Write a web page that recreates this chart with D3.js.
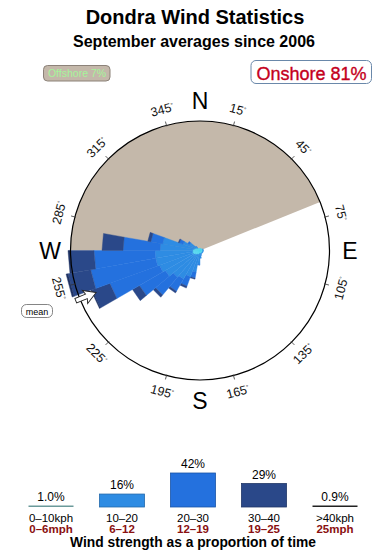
<!DOCTYPE html>
<html>
<head>
<meta charset="utf-8">
<script src="https://cdn.jsdelivr.net/npm/d3@7"></script>
<style>
body { margin: 0; background: #fff; }
svg { display: block; font-family: "Liberation Sans", Arial, sans-serif; }
</style>
</head>
<body>
<svg id="chart" width="390" height="560"></svg>
<script>
// direction bins (centre bearing, 10 degrees wide)
var dirs = [5,15,25,35,45,55,65,75,85,95,105,115,125,135,145,155,165,175,
	185,195,205,215,225,235,245,255,265,275,285,295,305,315,325,335,345,355];

// percent of time, per direction, per speed class
var s0to10 = [.005,.005,.005,.005,.005,.005,.008,.008,.008,.008,.008,.008,.008,.008,.008,.008,.01,.01,
	.01,.01,.02,.02,.03,.04,.06,.07,.06,.06,.04,.03,.02,.01,.005,.005,.005,.005];
var s10to20 = [0,0,0,0,0,0,.005,.005,.005,.005,.005,.005,.005,.005,.005,.005,.02,.06,
	.22,.55,.89,1.24,1.39,1.81,2.08,2.27,2.28,1.79,1.63,.35,.15,.03,0,0,0,0];
var s20to30 = [0,0,0,0,0,0,0,0,0,0,0,0,0,0,0,0,0,0,
	.02,.35,.76,1.30,2.48,3.82,8.52,11.91,10.66,5.01,1.22,.19,.06,0,0,0,0,0];
var s30to40 = [0,0,0,0,0,0,0,0,0,0,0,0,0,0,0,0,0,0,
	0,.07,.18,.22,.41,1.37,4.64,6.52,6.55,4.25,.36,.05,0,0,0,0,0,0];
var sOver40 = [0,0,0,0,0,0,0,0,0,0,0,0,0,0,0,0,0,0,
	0,0,0,0,0,0,.27,.63,.61,0,0,0,0,0,0,0,0,0];

var kphLabels = ["0\u201310kph","10\u201320","20\u201330","30\u201340",">40kph"];
var mphLabels = ["0\u20136mph","6\u201312","12\u201319","19\u201325","25mph"];
var legendPct = [1.0, 16, 42, 29, 0.9];
var legendPctText = ["1.0%","16%","42%","29%","0.9%"];
var colors = ["#52d6ee","#2e8ce3","#2471de","#2a4889","#1e3264"];

var tickDegs = [15,45,75,105,135,165,195,225,255,285,315,345];
var compass = [["N",0],["E",90],["S",180],["W",270]];
var offshoreFrom = -90, offshoreTo = 68;
var meanDir = 248;

var svg = d3.select("#chart");
var cx = 200, cy = 250.5, R = 129.5;
var rad = Math.PI / 180;

function pt(r, deg) {
	return [cx + r * Math.sin(deg * rad), cy - r * Math.cos(deg * rad)];
}

// title
svg.append("text").attr("x", 195).attr("y", 24).attr("text-anchor", "middle")
	.attr("font-size", "20px").attr("font-weight", 700).text("Dondra Wind Statistics");
svg.append("text").attr("x", 194).attr("y", 47).attr("text-anchor", "middle")
	.attr("font-size", "16px").attr("font-weight", 700).text("September averages since 2006");

// offshore / onshore boxes
svg.append("rect").attr("x", 43.5).attr("y", 65.5).attr("width", 66.5).attr("height", 15.5)
	.attr("rx", 4).attr("fill", "#c4b8aa").attr("stroke", "#8c8279");
svg.append("text").attr("x", 77).attr("y", 77).attr("text-anchor", "middle")
	.attr("font-size", "10.5px").attr("fill", "#a6f59a").text("Offshore 7%");
svg.append("rect").attr("x", 251).attr("y", 60.5).attr("width", 120.5).attr("height", 23)
	.attr("rx", 5).attr("fill", "#fff").attr("stroke", "#6a88aa");
svg.append("text").attr("x", 311.5).attr("y", 80).attr("text-anchor", "middle")
	.attr("font-size", "18px").attr("fill", "#c4001c")
	.attr("stroke", "#c4001c").attr("stroke-width", 0.35).text("Onshore 81%");

// offshore sector
svg.append("path")
	.attr("transform", "translate(" + cx + "," + cy + ")")
	.attr("d", d3.arc().innerRadius(0).outerRadius(R)
		.startAngle(offshoreFrom * rad).endAngle(offshoreTo * rad)())
	.attr("fill", "#c4b8aa");

// petals
var rScale = d3.scaleSqrt().domain([0, 20]).range([0, 131.5]);
var series = [s0to10, s10to20, s20to30, s30to40, sOver40];
var petals = [];
dirs.forEach(function(d, i) {
	var cum = 0;
	series.forEach(function(s, k) {
		if (s[i] <= 0) return;
		petals.push({ dir: d, k: k, r0: rScale(cum), r1: rScale(cum + s[i]) });
		cum += s[i];
	});
});

svg.append("g").selectAll("path")
	.data(petals)
	.enter()
	.append("path")
		.attr("d", function(p) {
			var a0 = p.dir - 5, a1 = p.dir + 5;
			var pts = [pt(p.r0, a0), pt(p.r1, a0), pt(p.r1, a1), pt(p.r0, a1)];
			return "M" + pts.join("L") + "Z";
		})
		.attr("fill", function(p) { return colors[p.k]; })
		.attr("stroke", function(p) { return colors[p.k]; })
		.attr("stroke-width", 0.4);

// circle and ticks
svg.append("circle").attr("cx", cx).attr("cy", cy).attr("r", R)
	.attr("fill", "none").attr("stroke", "#000").attr("stroke-width", 1.2);

svg.append("g").selectAll("line")
	.data(tickDegs)
	.enter()
	.append("line")
		.attr("x1", function(d) { return pt(R - 1, d)[0]; })
		.attr("y1", function(d) { return pt(R - 1, d)[1]; })
		.attr("x2", function(d) { return pt(R + 4, d)[0]; })
		.attr("y2", function(d) { return pt(R + 4, d)[1]; })
		.attr("stroke", "#333").attr("stroke-width", 0.8);

var degLab = svg.append("g").selectAll("text")
	.data(tickDegs)
	.enter()
	.append("text")
		.attr("transform", function(d) {
			var p = pt(R + 16.5, d);
			var rot = (d > 90 && d < 270) ? d - 180 : (d >= 270 ? d - 360 : d);
			return "translate(" + p[0] + "," + p[1] + ") rotate(" + rot + ")";
		})
		.attr("text-anchor", "middle")
		.attr("dy", "0.35em")
		.attr("font-size", "12.5px")
		.attr("fill", "#111");
degLab.append("tspan").text(function(d) { return d; });
degLab.append("tspan").attr("font-size", "6px").attr("dy", "-0.7em").text("\u00b0");

svg.append("g").selectAll("text")
	.data(compass)
	.enter()
	.append("text")
		.attr("x", function(c) { return pt(150, c[1])[0]; })
		.attr("y", function(c) { return pt(150, c[1])[1]; })
		.attr("dy", "0.36em")
		.attr("text-anchor", "middle")
		.attr("font-size", "23px")
		.text(function(c) { return c[0]; });

// mean arrow
var arrowPts = [[0, 112], [-7, 124], [-2.4, 122.5], [-2.4, 134], [2.4, 134], [2.4, 122.5], [7, 124]];
svg.append("path")
	.attr("transform", "translate(" + cx + "," + cy + ") rotate(" + (meanDir - 180) + ")")
	.attr("d", "M" + arrowPts.join("L") + "Z")
	.attr("fill", "#fff").attr("stroke", "#222").attr("stroke-width", 0.9);
svg.append("rect").attr("x", 21.5).attr("y", 304.5).attr("width", 31).attr("height", 13)
	.attr("rx", 5).attr("fill", "#fff").attr("stroke", "#666").attr("stroke-width", 0.8);
svg.append("text").attr("x", 37).attr("y", 314.5).attr("text-anchor", "middle")
	.attr("font-size", "9px").text("mean");

// legend
var baseY = 507;
var lx = d3.scalePoint().domain(kphLabels).range([51, 335]);
var lh = d3.scaleLinear().domain([0, 42]).range([0, 34]);
var bw = 45;
var lg = svg.append("g");
lg.selectAll("rect")
	.data(legendPct)
	.enter()
	.append("rect")
		.attr("x", function(d, i) { return lx(kphLabels[i]) - bw / 2; })
		.attr("y", function(d) { return baseY - Math.max(lh(d), 1.5); })
		.attr("width", bw)
		.attr("height", function(d) { return Math.max(lh(d), 1.5); })
		.attr("fill", function(d, i) { return i == 0 ? "#6b9a9a" : (i == 4 ? "#222" : colors[i]); })
		.attr("stroke", function(d, i) { return i == 0 || i == 4 ? "none" : d3.color(colors[i]).darker(0.8); })
		.attr("stroke-width", 0.8);
lg.selectAll(".pct")
	.data(legendPct)
	.enter()
	.append("text")
		.attr("class", "pct")
		.attr("x", function(d, i) { return lx(kphLabels[i]); })
		.attr("y", function(d) { return baseY - Math.max(lh(d), 1.5) - 5; })
		.attr("text-anchor", "middle")
		.attr("font-size", "12px")
		.text(function(d, i) { return legendPctText[i]; });
lg.selectAll(".kph")
	.data(kphLabels)
	.enter()
	.append("text")
		.attr("class", "kph")
		.attr("x", function(d) { return lx(d); })
		.attr("y", 522)
		.attr("text-anchor", "middle")
		.attr("font-size", "11.5px")
		.text(function(d) { return d; });
lg.selectAll(".mph")
	.data(mphLabels)
	.enter()
	.append("text")
		.attr("class", "mph")
		.attr("x", function(d, i) { return lx(kphLabels[i]); })
		.attr("y", 533)
		.attr("text-anchor", "middle")
		.attr("font-size", "11.5px")
		.attr("font-weight", 700)
		.attr("fill", "#8a1010")
		.text(function(d) { return d; });
svg.append("text").attr("x", 193).attr("y", 547).attr("text-anchor", "middle")
	.attr("font-size", "13.8px").attr("font-weight", 700).text("Wind strength as a proportion of time");
</script>
</body>
</html>
